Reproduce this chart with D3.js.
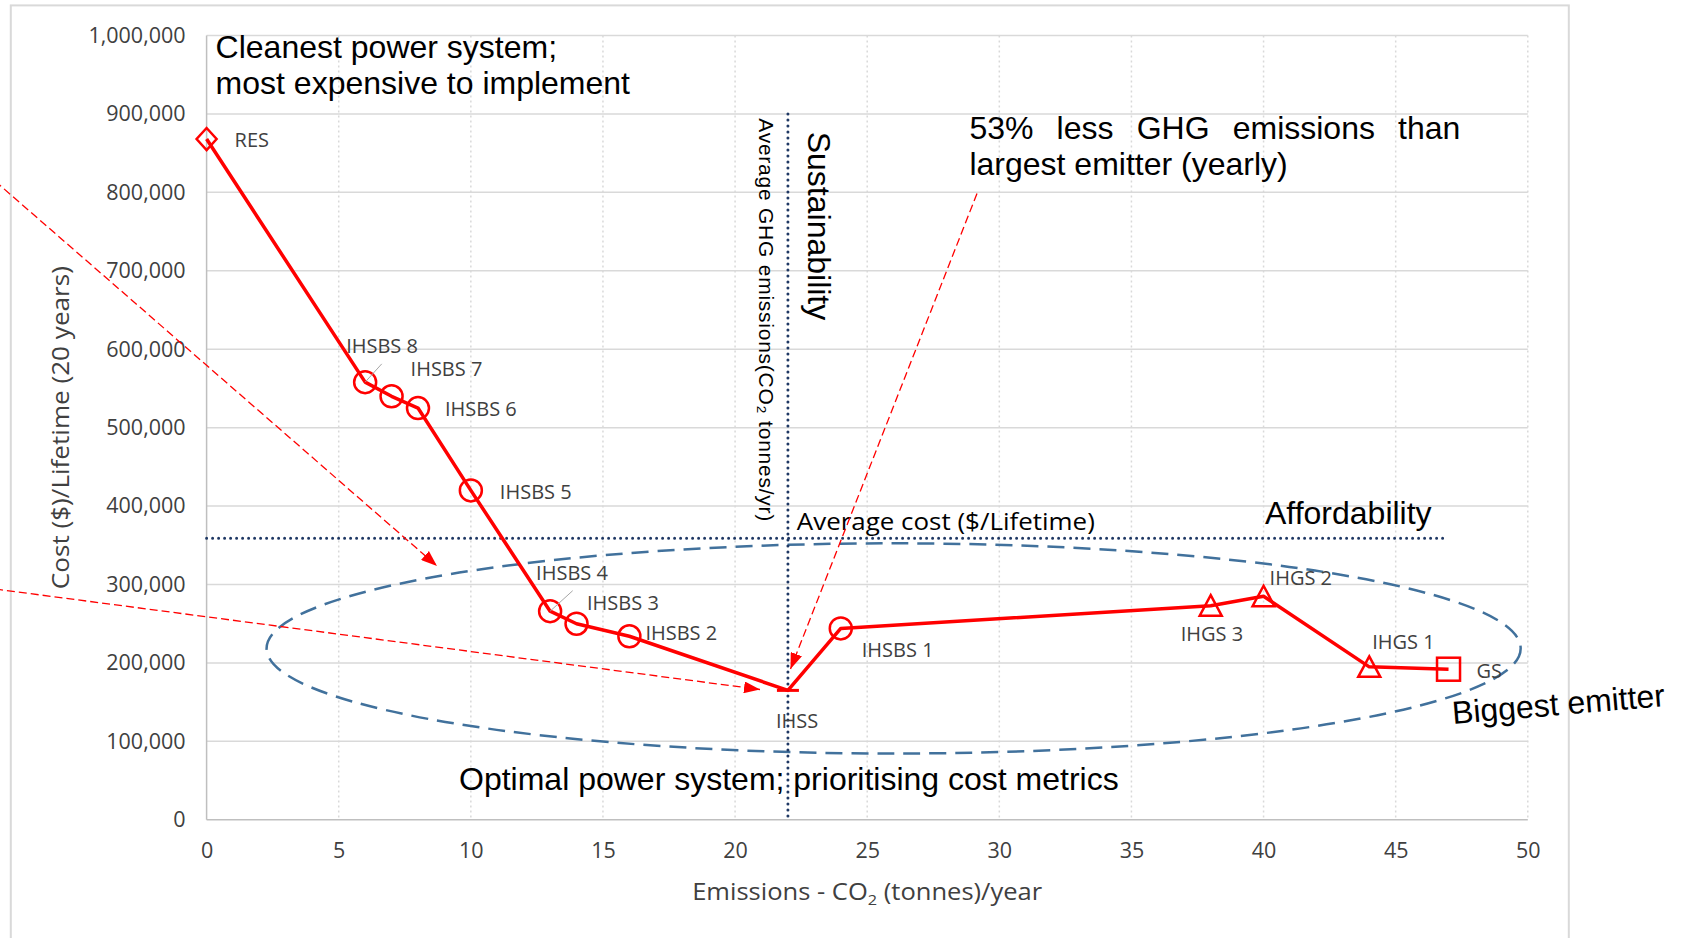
<!DOCTYPE html>
<html>
<head>
<meta charset="utf-8">
<script src="https://cdn.jsdelivr.net/npm/d3@7"></script>
<style>
  html, body { margin: 0; padding: 0; background: #fff; }
  svg { display: block; }
</style>
</head>
<body>
<svg id="chart" width="1687" height="938"></svg>
<script>
// ---------------- DATA ----------------
const systems   = ["RES","IHSBS 8","IHSBS 7","IHSBS 6","IHSBS 5","IHSBS 4","IHSBS 3","IHSBS 2","IHSS","IHSBS 1","IHGS 3","IHGS 2","IHGS 1","GS"];
const emissions = [0, 6, 7, 8, 10, 13, 14, 16, 22, 24, 38, 40, 44, 47];
const costs     = [868000, 558000, 540000, 525000, 420000, 266000, 250000, 234000, 165000, 244000, 273000, 285000, 195000, 192000];
const markerTypes = ["diamond","circle","circle","circle","circle","circle","circle","circle","dash","circle","triangle","triangle","triangle","square"];

const xTicks = [0, 5, 10, 15, 20, 25, 30, 35, 40, 45, 50];
const yTicks = [0, 100000, 200000, 300000, 400000, 500000, 600000, 700000, 800000, 900000, 1000000];

const avgEmission = 22;      // average GHG emissions (tonnes/yr)
const avgEmissionTop = 900000;
const avgCost = 359000;      // average cost ($/lifetime)
const avgCostEnd = 47;

// optimal-region ellipse (data units)
const ellipseCenter = [26, 218500];
const ellipseRadius = [23.73, 134000];

// ---------------- LAYOUT ----------------
const svg = d3.select("#chart");
const plot = { left: 206.6, right: 1527.8, top: 35.5, bottom: 819.8 };
const x = d3.scaleLinear().domain([0, 50]).range([plot.left, plot.right]);
const y = d3.scaleLinear().domain([0, 1000000]).range([plot.bottom, plot.top]);

const RED = "#FF0000";
const NAVY = "#1F3864";
const GRID = "#D9D9D9";
const LABEL = "#404040";
const SANS = "'Open Sans', 'Noto Sans', sans-serif";
const ARIAL = "'Liberation Sans', Arial, sans-serif";

// outer chart frame
svg.append("rect").attr("x", 10.8).attr("y", 5.4).attr("width", 1558).attr("height", 1000)
  .attr("fill", "none").attr("stroke", GRID).attr("stroke-width", 2);

// gridlines
const g = svg.append("g");
g.selectAll("line.hgrid").data(yTicks).join("line")
  .attr("x1", plot.left).attr("x2", plot.right)
  .attr("y1", d => y(d)).attr("y2", d => y(d))
  .attr("stroke", d => d === 0 ? "#BFBFBF" : GRID).attr("stroke-width", 1.5);
g.selectAll("line.vgrid").data(xTicks.filter(d => d > 0)).join("line")
  .attr("x1", d => x(d)).attr("x2", d => x(d))
  .attr("y1", plot.top).attr("y2", plot.bottom)
  .attr("stroke", GRID).attr("stroke-width", 1.5).attr("stroke-dasharray", "2,3");
g.append("line").attr("x1", x(0)).attr("x2", x(0)).attr("y1", plot.top).attr("y2", plot.bottom)
  .attr("stroke", "#BFBFBF").attr("stroke-width", 1.5);

// axes (labels only, Excel style)
const yAxis = d3.axisLeft(y).tickValues(yTicks).tickFormat(d3.format(",")).tickSize(0).tickPadding(21);
svg.append("g").attr("transform", `translate(${plot.left},0)`).call(yAxis)
  .call(s => s.select(".domain").remove())
  .selectAll("text").attr("font-family", SANS).attr("font-size", 21.5).attr("fill", LABEL);
const xAxis = d3.axisBottom(x).tickValues(xTicks).tickFormat(d3.format("d")).tickSize(0).tickPadding(23);
svg.append("g").attr("transform", `translate(0,${plot.bottom})`).call(xAxis)
  .call(s => s.select(".domain").remove())
  .selectAll("text").attr("font-family", SANS).attr("font-size", 21.5).attr("fill", LABEL);

// axis titles
const xt = svg.append("text").attr("x", (plot.left + plot.right) / 2).attr("y", 900)
  .attr("text-anchor", "middle").attr("font-family", SANS).attr("font-size", 23.5).attr("fill", LABEL)
  .attr("textLength", 350).attr("lengthAdjust", "spacingAndGlyphs");
xt.append("tspan").text("Emissions - CO");
xt.append("tspan").text("2").attr("font-size", 15).attr("dy", 5);
xt.append("tspan").text(" (tonnes)/year").attr("dy", -5);
svg.append("text").attr("transform", `translate(69,${(plot.top + plot.bottom) / 2}) rotate(-90)`)
  .attr("text-anchor", "middle").attr("font-family", SANS).attr("font-size", 23).attr("fill", LABEL)
  .attr("textLength", 323).attr("lengthAdjust", "spacingAndGlyphs")
  .text("Cost ($)/Lifetime (20 years)");

// ellipse
svg.append("ellipse")
  .attr("cx", x(ellipseCenter[0])).attr("cy", y(ellipseCenter[1]))
  .attr("rx", x(ellipseRadius[0]) - x(0)).attr("ry", y(0) - y(ellipseRadius[1]))
  .attr("fill", "none").attr("stroke", "#41719C").attr("stroke-width", 2.5).attr("stroke-dasharray", "17,9");

// average lines (dotted navy)
svg.append("line").attr("x1", x(avgEmission)).attr("x2", x(avgEmission))
  .attr("y1", y(avgEmissionTop)).attr("y2", y(0))
  .attr("stroke", NAVY).attr("stroke-width", 3).attr("stroke-linecap", "round").attr("stroke-dasharray", "0,6");
svg.append("line").attr("x1", x(0)).attr("x2", x(avgCostEnd))
  .attr("y1", y(avgCost)).attr("y2", y(avgCost))
  .attr("stroke", NAVY).attr("stroke-width", 3).attr("stroke-linecap", "round").attr("stroke-dasharray", "0,6");

// data line
const pts = emissions.map((e, i) => ({ name: systems[i], e, c: costs[i], m: markerTypes[i] }));
svg.append("path").datum(pts)
  .attr("d", d3.line().x(d => x(d.e)).y(d => y(d.c)))
  .attr("fill", "none").attr("stroke", RED).attr("stroke-width", 3.5).attr("stroke-linejoin", "round");

// markers
const mk = svg.append("g").selectAll("g").data(pts).join("g")
  .attr("transform", d => `translate(${x(d.e)},${y(d.c)})`);
mk.each(function(d) {
  const s = d3.select(this);
  const st = sel => sel.attr("fill", "none").attr("stroke", RED).attr("stroke-width", 2.5);
  if (d.m === "circle") s.append("circle").attr("r", 11).call(st);
  else if (d.m === "diamond") s.append("path").attr("d", "M0,-11L10,0L0,11L-10,0Z").call(st);
  else if (d.m === "triangle") s.append("path").attr("d", "M0,-10.5L11,10L-11,10Z").call(st);
  else if (d.m === "square") s.append("rect").attr("x", -11.5).attr("y", -11.5).attr("width", 23).attr("height", 23).call(st);
  else if (d.m === "dash") s.append("line").attr("x1", -11).attr("x2", 11).attr("stroke", RED).attr("stroke-width", 3);
});

// data labels (offsets are styling only)
const labelOffsets = {
  "RES": [28, 1], "IHSBS 8": [-19, -36], "IHSBS 7": [19, -27], "IHSBS 6": [27, 1],
  "IHSBS 5": [29, 1], "IHSBS 4": [-14, -38], "IHSBS 3": [10.5, -21], "IHSBS 2": [16, -3],
  "IHSS": [-12, 30], "IHSBS 1": [21, 21], "IHGS 3": [-30, 28], "IHGS 2": [6, -18],
  "IHGS 1": [3, -25], "GS": [28, 2]
};
const leaders = { "IHSBS 8": [16.6, -18.3], "IHSBS 4": [22.6, -20.5] };
pts.forEach(d => {
  if (leaders[d.name]) {
    svg.append("line").attr("x1", x(d.e)).attr("y1", y(d.c))
      .attr("x2", x(d.e) + leaders[d.name][0]).attr("y2", y(d.c) + leaders[d.name][1])
      .attr("stroke", "#A6A6A6").attr("stroke-width", 1);
  }
});
svg.append("g").selectAll("text").data(pts).join("text")
  .attr("x", d => x(d.e) + labelOffsets[d.name][0])
  .attr("y", d => y(d.c) + labelOffsets[d.name][1])
  .attr("dy", "0.36em")
  .attr("font-family", SANS).attr("font-size", 20).attr("fill", LABEL)
  .text(d => d.name);

// ---------------- ANNOTATIONS ----------------
const big = (sel) => sel.attr("font-family", ARIAL).attr("font-size", 32).attr("fill", "#000");

svg.append("text").attr("x", 215.6).attr("y", 58).call(big).text("Cleanest power system;");
svg.append("text").attr("x", 215.6).attr("y", 94).call(big).text("most expensive to implement");

// justified two-line note
const j1 = svg.append("text").attr("x", 969.4).attr("y", 139).call(big).text("53% less GHG emissions than");
const natural = j1.node().getComputedTextLength();
j1.attr("word-spacing", (491 - natural) / 4);
svg.append("text").attr("x", 969.4).attr("y", 175).call(big).text("largest emitter (yearly)");

svg.append("text").attr("transform", "translate(808,131.7) rotate(90)").call(big).text("Sustainability");
svg.append("text").attr("transform", "translate(759,118.3) rotate(90)")
  .attr("font-family", ARIAL).attr("font-size", 21).attr("fill", "#000")
  .attr("textLength", 403).attr("lengthAdjust", "spacing")
  .text("Average GHG emissions(CO\u2082 tonnes/yr)");

svg.append("text").attr("x", 796.8).attr("y", 530).attr("font-family", SANS).attr("font-size", 24)
  .attr("fill", "#000").attr("textLength", 298).attr("lengthAdjust", "spacingAndGlyphs")
  .text("Average cost ($/Lifetime)");
svg.append("text").attr("x", 1265).attr("y", 524).call(big).text("Affordability");

svg.append("text").attr("x", 459).attr("y", 789.5).call(big).text("Optimal power system; prioritising cost metrics");
svg.append("text").attr("transform", "translate(1453,724) rotate(-4.8)").call(big).text("Biggest emitter");

// red dashed arrows
const defs = svg.append("defs");
defs.append("marker").attr("id", "arr").attr("viewBox", "0 0 16 12").attr("refX", 16).attr("refY", 6)
  .attr("markerWidth", 16).attr("markerHeight", 12).attr("markerUnits", "userSpaceOnUse").attr("orient", "auto")
  .append("path").attr("d", "M0,0L16,6L0,12Z").attr("fill", RED);
const arrows = [
  [[-5, 181], [437, 566]],
  [[-5, 589], [760, 689.5]],
  [[977, 193.5], [790.5, 669]]
];
svg.append("g").selectAll("line").data(arrows).join("line")
  .attr("x1", d => d[0][0]).attr("y1", d => d[0][1]).attr("x2", d => d[1][0]).attr("y2", d => d[1][1])
  .attr("stroke", RED).attr("stroke-width", 1.3).attr("stroke-dasharray", "8,4")
  .attr("marker-end", "url(#arr)");
</script>
</body>
</html>
